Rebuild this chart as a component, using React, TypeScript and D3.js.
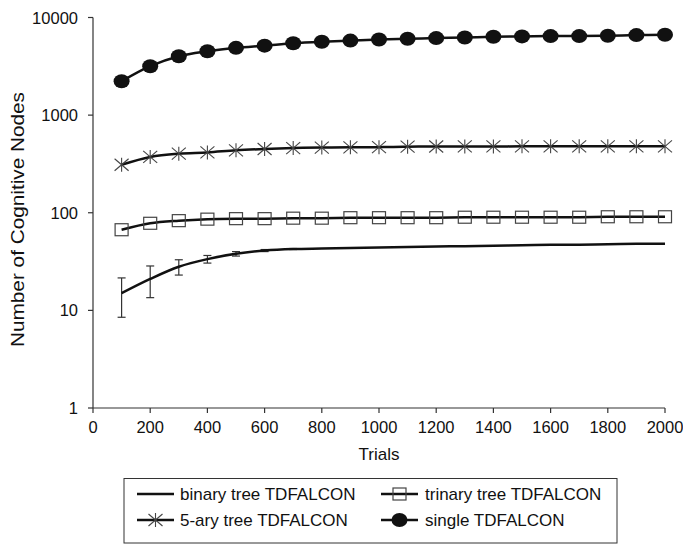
import React from "react";
import * as d3 from "d3";

const trials = [100, 200, 300, 400, 500, 600, 700, 800, 900, 1000, 1100, 1200, 1300, 1400, 1500, 1600, 1700, 1800, 1900, 2000];
const binary = [15, 21, 28, 33.5, 38, 41, 42.5, 43, 43.5, 44, 44.5, 45, 45.5, 46, 46.5, 47, 47, 47.5, 48, 48];
const binaryErr = [6.5, 7.5, 5, 3, 2, 1, 0.5, 0, 0, 0, 0, 0, 0, 0, 0, 0, 0, 0, 0, 0];
const trinary = [67, 78, 83, 86, 87, 87, 88, 88, 89, 89, 89, 89, 90, 90, 90, 90, 90, 91, 91, 91];
const fiveAry = [310, 373, 403, 415, 436, 450, 460, 465, 468, 470, 475, 477, 478, 478, 479, 479, 479, 479, 479, 479];
const single = [2220, 3170, 4010, 4510, 4890, 5150, 5450, 5650, 5800, 5950, 6050, 6150, 6250, 6350, 6400, 6450, 6450, 6500, 6600, 6650];

const xTicks = [0, 200, 400, 600, 800, 1000, 1200, 1400, 1600, 1800, 2000];
const yTicks = [1, 10, 100, 1000, 10000];
const legendLabels = ["binary tree TDFALCON", "trinary tree TDFALCON", "5-ary tree TDFALCON", "single TDFALCON"];

const FONT = "'Liberation Sans', Arial, Helvetica, sans-serif";

export default function App() {
  const x = d3.scaleLinear().domain([0, 2000]).range([93, 665]);
  const y = d3.scaleLog().domain([1, 10000]).range([408, 17.5]);
  const line = (vals: number[]) =>
    d3
      .line<number>()
      .x((_, i) => x(trials[i]))
      .y((v) => y(v))
      .curve(d3.curveCatmullRom.alpha(0.5))(vals) as string;

  const square = (cx: number, cy: number, k: string) => (
    <rect key={k} x={cx - 6.5} y={cy - 6} width={13} height={12} fill="none" stroke="#444" strokeWidth={1.2} />
  );
  const star = (cx: number, cy: number, k: string) => (
    <g key={k} stroke="#444" strokeWidth={1.1}>
      <line x1={cx - 7} y1={cy - 6} x2={cx + 7} y2={cy + 6} />
      <line x1={cx - 7} y1={cy + 6} x2={cx + 7} y2={cy - 6} />
      <line x1={cx} y1={cy - 7} x2={cx} y2={cy + 7} />
    </g>
  );
  const dot = (cx: number, cy: number, k: string) => (
    <ellipse key={k} cx={cx} cy={cy} rx={8} ry={7} fill="#111" />
  );

  const legX1 = 124;
  const legRows = [494, 520];
  const col1 = 137;
  const col2 = 381;
  const fs = 17;

  return (
    <svg width={683} height={544} style={{ position: "absolute", left: 0, top: 0 }} fontFamily={FONT}>
      <rect width={683} height={544} fill="#fff" />
      {/* axes */}
      <line x1={x(0)} y1={y(10000)} x2={x(0)} y2={y(1)} stroke="#333" strokeWidth={1.2} />
      <line x1={x(0)} y1={y(1)} x2={x(2000)} y2={y(1)} stroke="#333" strokeWidth={1.2} />
      {yTicks.map((t) => (
        <g key={"y" + t}>
          <line x1={x(0) - 5} x2={x(0)} y1={y(t)} y2={y(t)} stroke="#333" strokeWidth={1.2} />
          <text x={78} y={y(t) + 6} fontSize={16.5} textAnchor="end" fill="#111">
            {t}
          </text>
        </g>
      ))}
      {xTicks.map((t) => (
        <g key={"x" + t}>
          <line x1={x(t)} x2={x(t)} y1={y(1)} y2={y(1) + 5} stroke="#333" strokeWidth={1.2} />
          <text x={x(t)} y={433} fontSize={16.5} textAnchor="middle" fill="#111">
            {t}
          </text>
        </g>
      ))}
      <text x={379} y={460} fontSize={fs} textAnchor="middle" fill="#111">
        Trials
      </text>
      <text
        transform={`translate(24,219.5) rotate(-90)`}
        fontSize={18}
        textAnchor="middle"
        textLength={255}
        lengthAdjust="spacingAndGlyphs"
        fill="#111"
      >
        Number of Cognitive Nodes
      </text>

      {/* error bars */}
      {trials.map((t, i) =>
        binaryErr[i] > 0 ? (
          <g key={"e" + t} stroke="#333" strokeWidth={1.2}>
            <line x1={x(t)} x2={x(t)} y1={y(binary[i] + binaryErr[i])} y2={y(binary[i] - binaryErr[i])} />
            <line x1={x(t) - 4} x2={x(t) + 4} y1={y(binary[i] + binaryErr[i])} y2={y(binary[i] + binaryErr[i])} />
            <line x1={x(t) - 4} x2={x(t) + 4} y1={y(binary[i] - binaryErr[i])} y2={y(binary[i] - binaryErr[i])} />
          </g>
        ) : null
      )}

      {/* lines */}
      {[binary, trinary, fiveAry, single].map((s, k) => (
        <path key={"l" + k} d={line(s)} fill="none" stroke="#111" strokeWidth={2.5} />
      ))}
      {trinary.map((v, i) => square(x(trials[i]), y(v), "sq" + i))}
      {fiveAry.map((v, i) => star(x(trials[i]), y(v), "st" + i))}
      {single.map((v, i) => dot(x(trials[i]), y(v), "d" + i))}

      {/* legend */}
      <rect x={legX1} y={478.5} width={493} height={64.5} fill="#fff" stroke="#333" strokeWidth={1} />
      <line x1={col1} x2={col1 + 37} y1={legRows[0]} y2={legRows[0]} stroke="#111" strokeWidth={2.5} />
      <text x={180} y={legRows[0] + 6} fontSize={fs} fill="#111">{legendLabels[0]}</text>
      <line x1={col2} x2={col2 + 37} y1={legRows[0]} y2={legRows[0]} stroke="#111" strokeWidth={2.5} />
      {square(col2 + 18.5, legRows[0], "lsq")}
      <text x={425} y={legRows[0] + 6} fontSize={fs} fill="#111">{legendLabels[1]}</text>
      <line x1={col1} x2={col1 + 37} y1={legRows[1]} y2={legRows[1]} stroke="#111" strokeWidth={2.5} />
      {star(col1 + 18.5, legRows[1], "lst")}
      <text x={180} y={legRows[1] + 6} fontSize={fs} fill="#111">{legendLabels[2]}</text>
      <line x1={col2} x2={col2 + 37} y1={legRows[1]} y2={legRows[1]} stroke="#111" strokeWidth={2.5} />
      {dot(col2 + 18.5, legRows[1], "ld")}
      <text x={425} y={legRows[1] + 6} fontSize={fs} fill="#111">{legendLabels[3]}</text>
    </svg>
  );
}
